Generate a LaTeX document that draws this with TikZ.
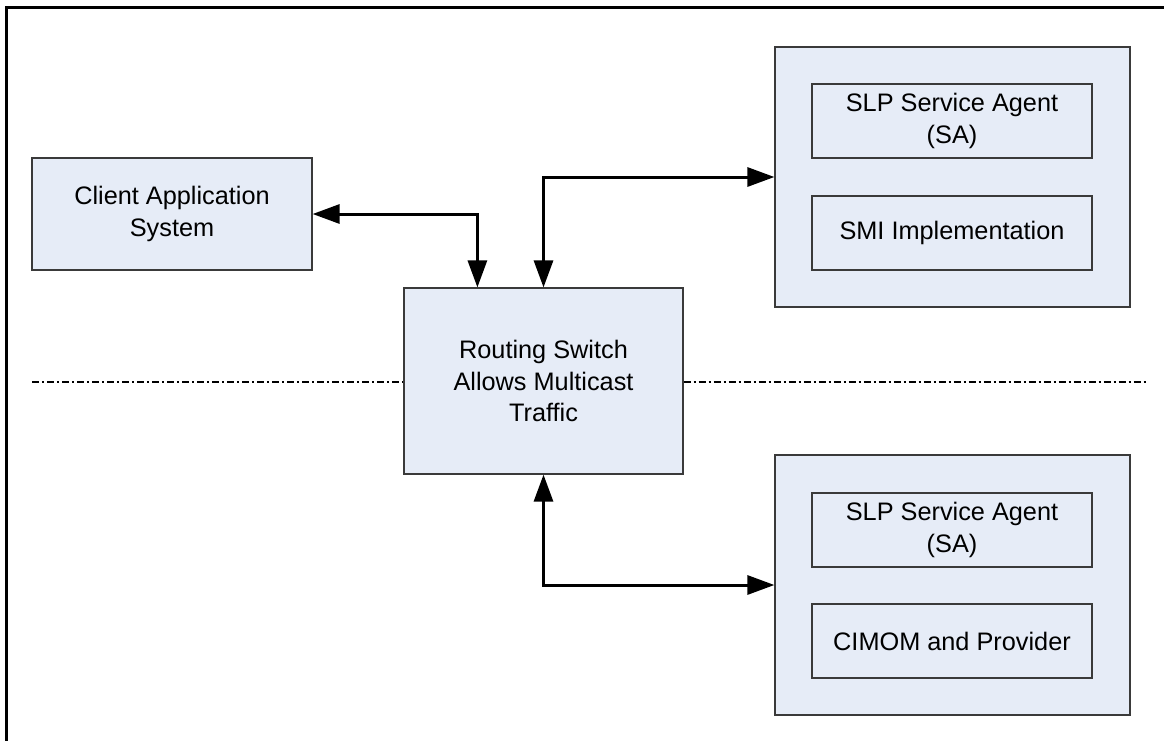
\documentclass[tikz,border=0pt]{standalone}
\usepackage{fontspec}
\setmainfont{Liberation Sans}
\usetikzlibrary{arrows.meta}
\definecolor{boxfill}{HTML}{E6ECF7}
\definecolor{boxline}{HTML}{3A3A3A}
\tikzset{
  box/.style={draw=boxline, line width=1.2pt, fill=boxfill, align=center, inner sep=0pt,
    font=\fontsize{25.3}{31.5}\selectfont},
  inbox/.style={draw=boxline, line width=1.2pt, align=center, inner sep=0pt,
    minimum width=280pt, minimum height=74pt, font=\fontsize{25.3}{31.5}\selectfont},
  conn/.style={line width=3pt, {Triangle[length=27pt,width=19pt]}-{Triangle[length=27pt,width=19pt]}},
  divider/.style={line width=1.3pt, dash pattern=on 7pt off 3pt on 2pt off 3pt}
}
\begin{document}
\begin{tikzpicture}[x=1pt,y=-1pt]
\useasboundingbox (0,0) rectangle (1164,740);
\fill[white] (0,0) rectangle (1164,740);
% outer frame (top and left visible)
\draw[line width=3pt] (6,741) -- (6,7) -- (1165,7);

\node[box, minimum width=280pt, minimum height=112pt] (client) at (172,214) {Client Application\\System};
\node[box, minimum width=279pt, minimum height=186pt] (router) at (543.5,381) {Routing Switch\\Allows Multicast\\Traffic};

\node[box, minimum width=355pt, minimum height=260pt] (top) at (952.5,177) {};
\node[inbox] (topsa) at (952,121) {SLP Service Agent\\(SA)};
\node[inbox] (smi) at (952,233) {SMI Implementation};

\node[box, minimum width=355pt, minimum height=260pt] (bot) at (952.5,585) {};
\node[inbox] (botsa) at (952,530) {SLP Service Agent\\(SA)};
\node[inbox] (cimom) at (952,641) {CIMOM and Provider};

\coordinate (dl) at (32,382);
\coordinate (dr) at (1147,382);
\draw[divider] (dl) -- (dl -| router.west);
\draw[divider] (dr -| router.east) -- (dr);

\draw[conn] (client.east) -| ([xshift=74pt]router.north west);
\draw[conn] (router.north) |- (top.west);
\draw[conn] (router.south) |- (bot.west);
\end{tikzpicture}
\end{document}
